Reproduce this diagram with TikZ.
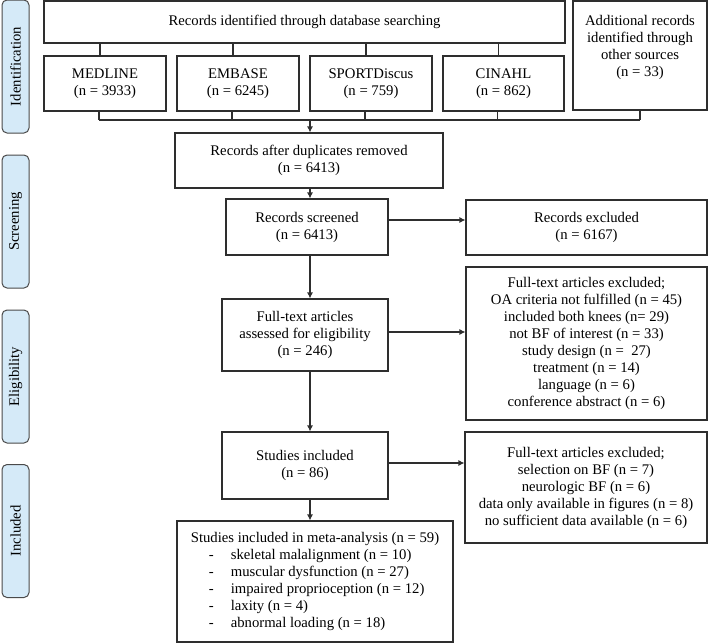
\documentclass[tikz,border=0pt]{standalone}
\usepackage{fontspec}
\setmainfont{Liberation Serif}
\usetikzlibrary{arrows.meta}
\definecolor{linec}{HTML}{2E2E2E}
\definecolor{sidefill}{HTML}{D5EAF8}
\definecolor{sideline}{HTML}{4A4A4A}
\begin{document}
\begin{tikzpicture}[x=1pt,y=-1pt,
  every node/.style={font=\fontsize{14.7}{17}\selectfont, text=black},
  box/.style={draw=linec, line width=1.1pt, align=center, inner sep=2pt},
  side/.style={draw=sideline, fill=sidefill, line width=1pt, rounded corners=5pt, rotate=90, inner sep=0pt, minimum height=27pt, minimum width=133pt},
  conn/.style={draw=linec, line width=1.1pt},
  arr/.style={conn, -{Latex[length=6pt,width=6pt]}}]
\useasboundingbox (0,0) rectangle (709,643);

% side labels
\node[side] (sid) at (15.5,66.5) {Identification};
\node[side] (ssc) at (15.5,221.5) {Screening};
\node[side] (sel) at (15.5,376.5) {Eligibility};
\node[side] (sin) at (15.5,531) {Included};

% identification
\node[box, minimum width=521pt, minimum height=42pt] (top) at (304.5,22) {Records identified through database searching};
\node[box, minimum width=122pt, minimum height=55pt] (medline) at (105,83.5) {MEDLINE\\(n = 3933)};
\node[box, minimum width=122pt, minimum height=55pt] (embase) at (238,83.5) {EMBASE\\(n = 6245)};
\node[box, minimum width=122pt, minimum height=55pt] (sport) at (371,83.5) {SPORTDiscus\\(n = 759)};
\node[box, minimum width=121pt, minimum height=55pt] (cinahl) at (503.5,83.5) {CINAHL\\(n = 862)};
\node[box, minimum width=134pt, minimum height=109pt] (add) at (640,55.5) {};
\node[align=center, inner sep=0pt] (addtext) at (640,47) {Additional records\\identified through\\other sources\\(n = 33)};

% screening
\node[box, minimum width=268pt, minimum height=55pt] (dup) at (309,160.5) {Records after duplicates removed\\(n = 6413)};
\node[box, minimum width=162pt, minimum height=56pt] (scr) at (307,227) {Records screened\\(n = 6413)};
\node[box, minimum width=241pt, minimum height=55pt] (exc1) at (586.5,227.5) {Records excluded\\(n = 6167)};

% eligibility
\node[box, minimum width=166pt, minimum height=72pt] (full) at (305,335) {Full-text articles\\assessed for eligibility\\(n = 246)};
\node[box, minimum width=241pt, minimum height=153pt] (exc2) at (586.5,343.5) {Full-text articles excluded;\\OA criteria not fulfilled (n = 45)\\included both knees (n= 29)\\not BF of interest (n = 33)\\study design (n =\ \ 27)\\treatment (n = 14)\\language (n = 6)\\conference abstract (n = 6)};

% included
\node[box, minimum width=166pt, minimum height=67pt] (incl) at (305,465.5) {Studies included\\(n = 86)};
\node[box, minimum width=242pt, minimum height=111pt] (exc3) at (586,487.5) {Full-text articles excluded;\\selection on BF (n = 7)\\neurologic BF (n = 6)\\data only available in figures (n = 8)\\no sufficient data available (n = 6)};
\node[box, minimum width=276pt, minimum height=121pt] (meta) at (315,581.5) {\begin{tabular}{@{}l@{}}
Studies included in meta-analysis (n = 59)\\
\hspace*{18pt}\makebox[22pt][l]{-}skeletal malalignment (n = 10)\\
\hspace*{18pt}\makebox[22pt][l]{-}muscular dysfunction (n = 27)\\
\hspace*{18pt}\makebox[22pt][l]{-}impaired proprioception (n = 12)\\
\hspace*{18pt}\makebox[22pt][l]{-}laxity (n = 4)\\
\hspace*{18pt}\makebox[22pt][l]{-}abnormal loading (n = 18)
\end{tabular}};

% connectors top -> databases
\foreach \n in {medline,embase,sport,cinahl}{
  \draw[conn] ([xshift=-5pt]\n.north) -- ([xshift=-5pt]\n.north |- top.south);
}
% bus
\coordinate (busL) at (99,120);
\coordinate (busR) at (640,120);
\coordinate (busM) at (310,120);
\foreach \n in {medline,embase,sport,cinahl}{
  \draw[conn] ([xshift=-6pt]\n.south) -- ([xshift=-6pt]\n.south |- busL);
}
\draw[conn] (add.south) -- (add.south |- busR);
\draw[conn] (busL) -- (busR);
\draw[arr] (busM) -- (busM |- dup.north);
\draw[arr] (dup.south -| busM) -- (busM |- scr.north);
\draw[arr] (scr.south -| busM) -- (busM |- full.north);
\draw[arr] (full.south -| busM) -- (busM |- incl.north);
\draw[arr] (incl.south -| busM) -- (busM |- meta.north);

\draw[arr] ([yshift=7pt]scr.east) -- ([yshift=7pt]scr.east -| exc1.west);
\draw[arr] ([yshift=3pt]full.east) -- ([yshift=3pt]full.east -| exc2.west);
\draw[arr] ([yshift=2.5pt]incl.east) -- ([yshift=2.5pt]incl.east -| exc3.west);
\end{tikzpicture}
\end{document}
